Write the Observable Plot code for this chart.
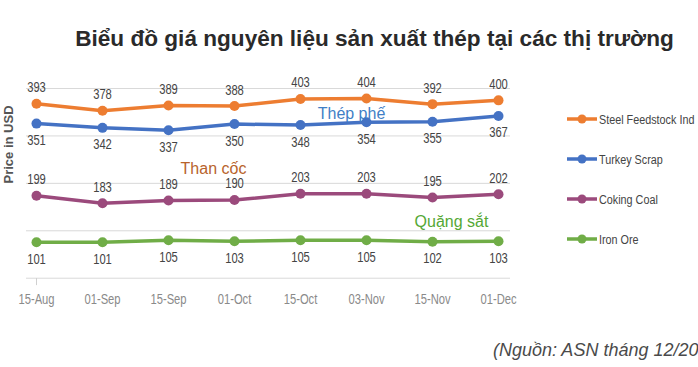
<!DOCTYPE html>
<html>
<head>
<meta charset="utf-8">
<script src="https://cdn.jsdelivr.net/npm/d3@7"></script>
<script src="https://cdn.jsdelivr.net/npm/@observablehq/plot@0.6"></script>
<style>
  html, body { margin: 0; padding: 0; background: #fff; overflow: hidden; }
  #wrap { position: relative; width: 698px; height: 367px; }
  #title { position: absolute; left: 0; width: 698px; top: 27px; line-height: 24px; text-align: center; padding-left: 51px; box-sizing: border-box;
    font-family: "Liberation Sans", Arial, sans-serif; font-weight: bold; font-size: 22.6px; color: #2a2a2a; white-space: nowrap; }
  #caption { position: absolute; left: 493px; top: 340px; line-height: 21px; font-family: "Liberation Sans", Arial, sans-serif; font-style: italic;
    font-size: 18px; color: #4a4a4a; white-space: nowrap; }
  #chart { position: absolute; left: 0; top: 0; }
  #legend { position: absolute; left: 0; top: 0; }
</style>
</head>
<body>
<div id="wrap">
  <div id="chart"></div>
  <svg id="legend" width="698" height="367"></svg>
  <div id="title">Biểu đồ giá nguyên liệu sản xuất thép tại các thị trường</div>
  <div id="caption">(Nguồn: ASN tháng 12/20</div>
</div>
<script>
const dates = ["15-Aug","01-Sep","15-Sep","01-Oct","15-Oct","03-Nov","15-Nov","01-Dec"];
const steelFeedstock = [393,378,389,388,403,404,392,400];
const turkeyScrap = [351,342,337,350,348,354,355,367];
const cokingCoal = [199,183,189,190,203,203,195,202];
const ironOre = [101,101,105,103,105,105,102,103];
const seriesNames = ["Steel Feedstock Ind","Turkey Scrap","Coking Coal","Iron Ore"];
const seriesColors = ["#ED7D31","#4472C4","#9B4A7C","#70AD47"];
const labelSide = [-1, 1, -1, 1];
const gridValues = [25,125,225,325,425];
const annotations = [
  {text: "Thép phế", x: "15-Oct", value: 372, dx: 51, color: "#3F7FC6"},
  {text: "Than cốc", x: "01-Oct", value: 256, dx: -21, color: "#B8632B"},
  {text: "Quặng sắt", x: "15-Nov", value: 143, dx: 19, color: "#55A835"}
];
const yLabel = "Price in USD";

const allValues = [steelFeedstock, turkeyScrap, cokingCoal, ironOre];
const data = [];
allValues.forEach((vals, s) => vals.forEach((v, i) => data.push({series: seriesNames[s], date: dates[i], value: v, side: labelSide[s]})));

const base = "'Liberation Sans', Arial, sans-serif";
const yMin = 24.4;

const chart = Plot.plot({
  width: 698,
  height: 367,
  marginTop: 88,
  marginBottom: 89,
  marginLeft: 26,
  marginRight: 188,
  x: {type: "point", domain: dates, range: [33, 500], padding: 0},
  y: {domain: [yMin, 425], axis: null},
  color: {domain: seriesNames, range: seriesColors},
  style: {fontFamily: base, background: "transparent"},
  marks: [
    Plot.ruleY(gridValues, {stroke: "#d9d9d9", strokeWidth: 1}),
    Plot.ruleX([dates[0]], {x: d => d, y1: yMin, y2: yMin - 15, stroke: "#d0d0d0"}),
    Plot.axisX({tickSize: 0, tickPadding: 16, fontSize: 14, fill: "#8a8a8a", fontFamily: base}),
    Plot.line(data, {x: "date", y: "value", z: "series", stroke: "series", strokeWidth: 3.5}),
    Plot.dot(data, {x: "date", y: "value", fill: "series", r: 5}),
    Plot.text(data.filter(d => d.side < 0), {x: "date", y: "value", text: d => String(d.value), dy: -16, fontSize: 14, fill: "#444", fontFamily: base}),
    Plot.text(data.filter(d => d.side > 0), {x: "date", y: "value", text: d => String(d.value), dy: 17, fontSize: 14, fill: "#444", fontFamily: base}),
    ...annotations.map(a => Plot.text([a], {x: "x", y: "value", text: "text", dx: a.dx, fill: a.color, fontSize: 16, fontFamily: base})),
    Plot.text([yLabel], {frameAnchor: "left", dx: -18, dy: 0, rotate: -90, text: d => d, fontSize: 13, fontWeight: "bold", fill: "#555", fontFamily: base})
  ]
});
document.getElementById("chart").appendChild(chart);

// condense the Calibri-like narrow labels
const keep = new Set([...annotations.map(a => a.text), yLabel]);
function condense(nodes, factor) {
  nodes.forEach(el => {
    if (keep.has(el.textContent)) return;
    const w = el.getComputedTextLength();
    if (w > 0) {
      el.setAttribute("textLength", (w * factor).toFixed(2));
      el.setAttribute("lengthAdjust", "spacingAndGlyphs");
    }
  });
}
condense(Array.from(chart.querySelectorAll("text")), 0.8);

// legend
const lg = d3.select("#legend");
const lgY = [119, 159, 199, 239];
seriesNames.forEach((name, i) => {
  const g = lg.append("g").attr("transform", `translate(0,${lgY[i]})`);
  g.append("line").attr("x1", 567).attr("x2", 597).attr("stroke", seriesColors[i]).attr("stroke-width", 3.5);
  g.append("circle").attr("cx", 582).attr("r", 4.5).attr("fill", seriesColors[i]);
  g.append("text").attr("transform", "translate(599,0) scale(0.8,1)").attr("dy", "0.35em").attr("font-family", base)
    .attr("font-size", 13.5).attr("fill", "#444").text(name);
});
</script>
</body>
</html>
